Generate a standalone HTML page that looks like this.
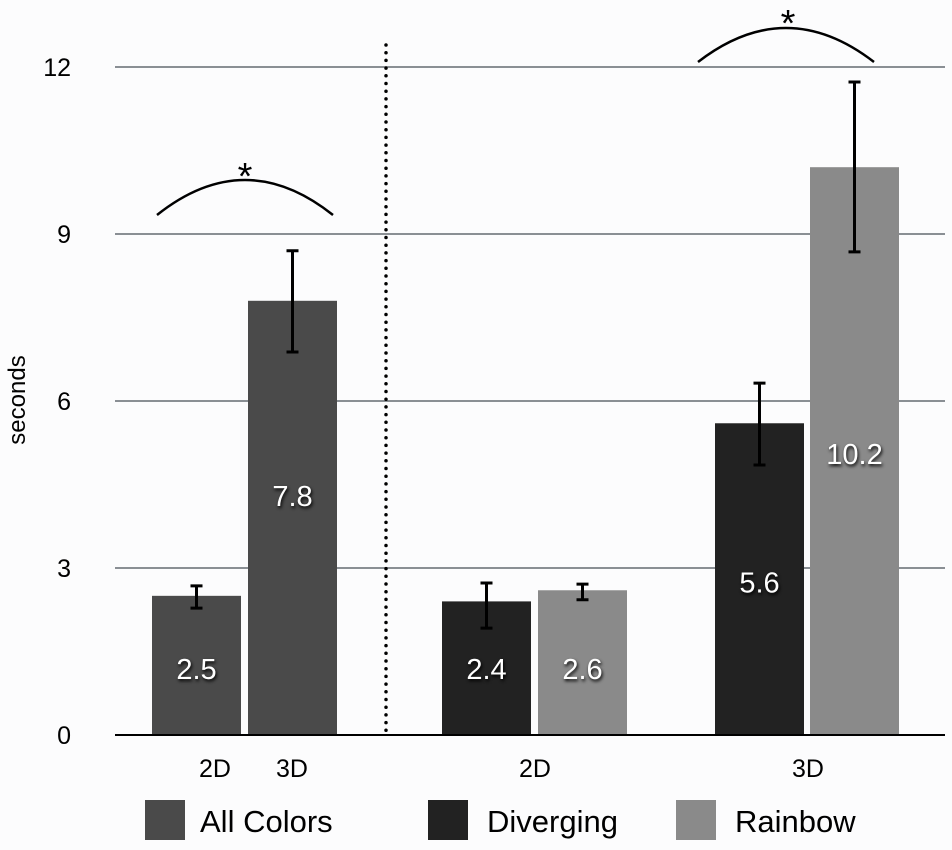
<!DOCTYPE html>
<html><head><meta charset="utf-8"><style>
body{margin:0;background:#fcfcfd;}
svg{display:block;font-family:"Liberation Sans",sans-serif;}
</style></head><body>
<svg id="chart" width="952" height="850">
<g id="grid"></g><g id="marks"></g><g id="ann"></g>
</svg>
<script>
const categories=["All Colors 2D","All Colors 3D","Diverging 2D","Rainbow 2D","Diverging 3D","Rainbow 3D"];
const values=[2.5,7.8,2.4,2.6,5.6,10.2];
const errHigh=[2.68,8.7,2.73,2.71,6.32,11.73];
const errLow=[2.28,6.88,1.92,2.43,4.85,8.68];
const labels=["2.5","7.8","2.4","2.6","5.6","10.2"];
const series=["all","all","div","rain","div","rain"];
const yTicks=[0,3,6,9,12];
const barLeft=[152,248,442,538,715,810];
const colors={all:"#4a4a4a",div:"#222222",rain:"#8a8a8a"};
const NS="http://www.w3.org/2000/svg";
const y=v=>735-v*(668/12);
function mk(t,a,p){const e=document.createElementNS(NS,t);for(const k in a)e.setAttribute(k,a[k]);p.appendChild(e);return e;}
const g=document.getElementById('grid'),m=document.getElementById('marks'),an=document.getElementById('ann');
yTicks.forEach(t=>{
  if(t>0){const l=mk('line',{x1:115,x2:945,y1:y(t),y2:y(t),stroke:'#8a8f94','stroke-width':2},g);
  
  }
  const tx=mk('text',{x:71,y:y(t)+9,'text-anchor':'end','font-size':25,fill:'#000'},g);tx.textContent=t;
  
  
});
const yt=mk('text',{x:25,y:400,'font-size':24,'text-anchor':'middle',transform:'rotate(-90 25 400)'},g);yt.textContent='seconds';


values.forEach((v,i)=>{
  const x=barLeft[i],w=89;
  const r=mk('rect',{x:x,y:y(v),width:w,height:y(0)-y(v),fill:colors[series[i]]},m);
  
  
  const cx=x+w/2;
  const e=mk('path',{d:`M${cx},${y(errHigh[i])}V${y(errLow[i])}M${cx-6},${y(errHigh[i])}H${cx+6}M${cx-6},${y(errLow[i])}H${cx+6}`,stroke:'#000','stroke-width':3,fill:'none'},m);
  
  
  const ty = i===5? y(v)+297 : (i===4? y(v)+169 : (i===1? y(v)+205 : y(0)-56));
  const t=mk('text',{x:cx,y:ty,'text-anchor':'middle','font-size':29,fill:'#fff',style:'text-shadow:1px 2px 3px #000'},m);t.textContent=labels[i];
  
  
});
const ax=mk('line',{x1:115,x2:945,y1:735,y2:735,stroke:'#000','stroke-width':2},m);


const dv=mk('line',{x1:386,x2:386,y1:45,y2:735,stroke:'#000','stroke-width':3.5,'stroke-dasharray':'0 7.7','stroke-linecap':'round'},an);


[[157,333,215,180,245,175],[698,874,62,28,788,22]].forEach(b=>{
  const p=mk('path',{d:`M${b[0]},${b[2]}Q${(b[0]+b[1])/2},${2*b[3]-b[2]} ${b[1]},${b[2]}`,stroke:'#000','stroke-width':2.5,fill:'none'},an);
  
  
  const s=mk('text',{x:b[4],y:b[5]+14,'text-anchor':'middle','font-size':38},an);s.textContent='*';
  
  
});
[["2D",215],["3D",292],["2D",535],["3D",808]].forEach(c=>{
  const t=mk('text',{x:c[1],y:777,'text-anchor':'middle','font-size':25},an);t.textContent=c[0];
  
  
});
[["All Colors","all",145,200],["Diverging","div",428,487],["Rainbow","rain",676,735]].forEach(L=>{
  const r=mk('rect',{x:L[2],y:800,width:40,height:40,fill:colors[L[1]]},an);
  
  
  const t=mk('text',{x:L[3],y:832,'font-size':31},an);t.textContent=L[0];
  
  
});
</script>
</body></html>
